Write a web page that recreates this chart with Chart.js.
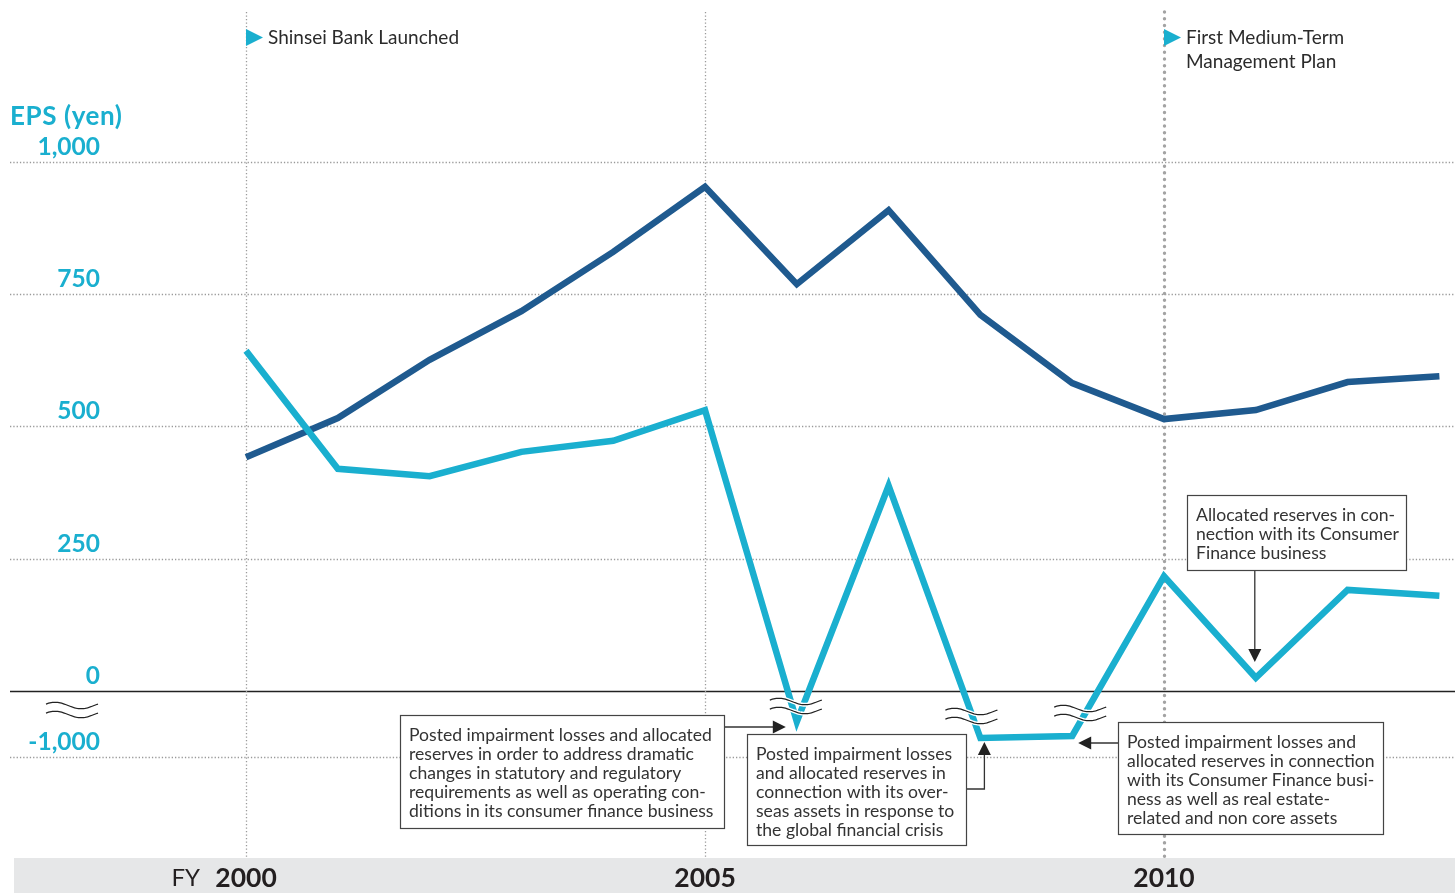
<!DOCTYPE html>
<html>
<head>
<meta charset="utf-8">
<title>EPS (yen)</title>
<script src="https://cdn.jsdelivr.net/npm/chart.js@4/dist/chart.umd.min.js"></script>
<style>
  html, body { margin: 0; padding: 0; background: #fff; }
  #wrap { width: 1455px; height: 893px; position: relative; }
</style>
</head>
<body>
<div id="wrap"><canvas id="epsChart" width="1455" height="893"></canvas></div>
<script>
// fiscal years and EPS (yen) for the two series
const years = [2000, 2001, 2002, 2003, 2004, 2005, 2006, 2007, 2008, 2009, 2010, 2011, 2012, 2013];
const epsNavy = [442, 516, 626, 718, 830, 953, 769, 909, 711, 582, 514, 531, 584, 595];
const epsCyan = [643, 420, 406, 452, 473, 531, -464, 388, -711, -680, 217, 25, 191, 180];

// y ticks as EPS values; the negative part of the axis is compressed
const yTicks = [1000, 750, 500, 250, 0, -1000];
const xLabelYears = [2000, 2005, 2010];
const BREAK = 0.125;
const squash = (v) => (v < 0 ? v * BREAK : v);

const NAVY = "#1f5a8f";
const CYAN = "#1aafcf";
const FONT = "Lato, 'Noto Sans', sans-serif";

const notes = [
  { x: 400, y: 715, w: 324, h: 113, lines: [
    "Posted impairment losses and allocated",
    "reserves in order to address dramatic",
    "changes in statutory and regulatory",
    "requirements as well as operating con-",
    "ditions in its consumer finance business"] },
  { x: 747, y: 734, w: 219, h: 111, lines: [
    "Posted impairment losses",
    "and allocated reserves in",
    "connection with its over-",
    "seas assets in response to",
    "the global financial crisis"] },
  { x: 1118, y: 722, w: 265, h: 112, lines: [
    "Posted impairment losses and",
    "allocated reserves in connection",
    "with its Consumer Finance busi-",
    "ness as well as real estate-",
    "related and non core assets"] },
  { x: 1187, y: 495, w: 219, h: 75, lines: [
    "Allocated reserves in con-",
    "nection with its Consumer",
    "Finance business"] }
];

function arrowHead(ctx, x, y, dir) {
  const L = 13, W = 6.5;
  ctx.beginPath();
  if (dir === "right") { ctx.moveTo(x, y); ctx.lineTo(x - L, y - W); ctx.lineTo(x - L, y + W); }
  if (dir === "left") { ctx.moveTo(x, y); ctx.lineTo(x + L, y - W); ctx.lineTo(x + L, y + W); }
  if (dir === "up") { ctx.moveTo(x, y); ctx.lineTo(x - W, y + L); ctx.lineTo(x + W, y + L); }
  if (dir === "down") { ctx.moveTo(x, y); ctx.lineTo(x - W, y - L); ctx.lineTo(x + W, y - L); }
  ctx.closePath();
  ctx.fill();
}

function waves(ctx, cx, cy) {
  const w = 52, a = 3.2, gap = 9;
  const path = (oy) => {
    ctx.beginPath();
    for (let i = 0; i <= 40; i++) {
      const t = i / 40;
      const px = cx - w / 2 + t * w;
      const py = cy + oy - a * Math.sin(t * Math.PI * 2 + Math.PI * 0.15);
      i === 0 ? ctx.moveTo(px, py) : ctx.lineTo(px, py);
    }
  };
  [-gap / 2, gap / 2].forEach((oy) => {
    path(oy);
    ctx.strokeStyle = "#fff"; ctx.lineWidth = 4; ctx.stroke();
    path(oy);
    ctx.strokeStyle = "#222"; ctx.lineWidth = 1.3; ctx.stroke();
  });
}

const backdrop = {
  id: "backdrop",
  beforeDatasetsDraw(chart) {
    const { ctx, chartArea, scales } = chart;
    const x = scales.x, y = scales.y;
    ctx.save();
    // gray year band
    ctx.fillStyle = "#e6e7e8";
    ctx.fillRect(14, chartArea.bottom, 1455 - 14, 893 - chartArea.bottom);

    // horizontal grid
    yTicks.forEach((t) => {
      const py = Math.round(y.getPixelForValue(squash(t))) + 0.5;
      ctx.beginPath();
      ctx.moveTo(chartArea.left, py);
      ctx.lineTo(chartArea.right, py);
      if (t === 0) {
        ctx.setLineDash([]); ctx.strokeStyle = "#222"; ctx.lineWidth = 1.5;
      } else {
        ctx.setLineDash([1.3, 2]); ctx.strokeStyle = "#9a9a9a"; ctx.lineWidth = 1.3;
      }
      ctx.stroke();
    });

    // vertical year markers
    xLabelYears.forEach((yr) => {
      const px = Math.round(x.getPixelForValue(yr)) + 0.5;
      ctx.beginPath();
      ctx.moveTo(px, 12);
      ctx.lineTo(px, chartArea.bottom);
      if (yr === 2010) {
        ctx.setLineDash([0.1, 6.6]); ctx.lineCap = "round"; ctx.lineWidth = 3.4; ctx.strokeStyle = "#a3a3a3";
      } else {
        ctx.setLineDash([1.3, 2.2]); ctx.lineCap = "butt"; ctx.lineWidth = 1.3; ctx.strokeStyle = "#9a9a9a";
      }
      ctx.stroke();
    });
    ctx.restore();
  },
  afterDatasetsDraw(chart) {
    const { ctx, scales } = chart;
    const x = scales.x, y = scales.y;
    const pt = (i, data) => ({ x: x.getPixelForValue(years[i]), y: y.getPixelForValue(squash(data[i])) });
    ctx.save();

    // axis break marks
    waves(ctx, 72, 710);
    const p06 = pt(6, epsCyan), p08 = pt(8, epsCyan), p09 = pt(9, epsCyan), p11 = pt(11, epsCyan);
    waves(ctx, p06.x - 1, 706);
    waves(ctx, p08.x - 9, 716);
    waves(ctx, p09.x + 8, 713);

    // y tick labels
    ctx.fillStyle = CYAN;
    ctx.font = "bold 24.5px " + FONT;
    ctx.textAlign = "right";
    ctx.textBaseline = "middle";
    yTicks.forEach((t) => {
      const py = y.getPixelForValue(squash(t));
      ctx.fillText(t.toLocaleString("en-US"), 100, py - 15);
    });
    ctx.textAlign = "left";
    ctx.font = "bold 26px " + FONT;
    ctx.letterSpacing = "0.6px";
    ctx.fillText("EPS (yen)", 10, 117);
    ctx.letterSpacing = "0px";

    // x labels in the band
    ctx.fillStyle = "#231f20";
    ctx.textAlign = "center";
    xLabelYears.forEach((yr) => {
      ctx.font = "bold 26.5px " + FONT;
      ctx.fillText(String(yr), x.getPixelForValue(yr), 878);
    });
    ctx.font = "24px " + FONT;
    ctx.textAlign = "right";
    ctx.fillText("FY", 200, 878);

    // milestone flags
    const flag = (yr, lines) => {
      const px = x.getPixelForValue(yr);
      ctx.fillStyle = CYAN;
      ctx.beginPath();
      ctx.moveTo(px, 29); ctx.lineTo(px + 17, 37.5); ctx.lineTo(px, 46);
      ctx.closePath(); ctx.fill();
      ctx.fillStyle = "#2b2b2b";
      ctx.font = "19px " + FONT;
      ctx.textAlign = "left";
      lines.forEach((s, i) => ctx.fillText(s, px + 22, 38 + i * 24));
    };
    flag(2000, ["Shinsei Bank Launched"]);
    flag(2010, ["First Medium-Term", "Management Plan"]);

    // callout arrows
    ctx.strokeStyle = "#333"; ctx.fillStyle = "#222"; ctx.lineWidth = 1.3;
    ctx.beginPath(); ctx.moveTo(724, 727); ctx.lineTo(p06.x - 14, 727); ctx.stroke();
    arrowHead(ctx, p06.x - 11, 727, "right");
    ctx.beginPath(); ctx.moveTo(966, 789); ctx.lineTo(p08.x + 4, 789); ctx.lineTo(p08.x + 4, 752); ctx.stroke();
    arrowHead(ctx, p08.x + 4, 742, "up");
    ctx.beginPath(); ctx.moveTo(1118, 743); ctx.lineTo(p09.x + 12, 743); ctx.stroke();
    arrowHead(ctx, p09.x + 6, 743, "left");
    ctx.beginPath(); ctx.moveTo(p11.x - 1, 570); ctx.lineTo(p11.x - 1, 652); ctx.stroke();
    arrowHead(ctx, p11.x - 1, 662, "down");

    // callout boxes
    notes.forEach((n) => {
      ctx.fillStyle = "#fff";
      ctx.fillRect(n.x, n.y, n.w, n.h);
      ctx.strokeStyle = "#444"; ctx.lineWidth = 1.2;
      ctx.strokeRect(n.x + 0.5, n.y + 0.5, n.w, n.h);
      ctx.fillStyle = "#333";
      ctx.font = "17.6px " + FONT;
      ctx.textAlign = "left";
      ctx.textBaseline = "middle";
      n.lines.forEach((s, i) => ctx.fillText(s, n.x + 9, n.y + 20 + i * 19));
    });
    ctx.restore();
  }
};

new Chart(document.getElementById("epsChart"), {
  type: "line",
  data: {
    datasets: [
      {
        label: "EPS",
        data: years.map((yr, i) => ({ x: yr, y: squash(epsCyan[i]) })),
        borderColor: CYAN,
        borderWidth: 6.5,
        pointRadius: 0,
        tension: 0,
        order: 0
      },
      {
        label: "EPS (navy)",
        data: years.map((yr, i) => ({ x: yr, y: epsNavy[i] })),
        borderColor: NAVY,
        borderWidth: 6.5,
        pointRadius: 0,
        tension: 0,
        order: 1
      }
    ]
  },
  options: {
    responsive: false,
    animation: false,
    layout: { padding: { left: 10, right: 0, top: 0, bottom: 35 } },
    plugins: { legend: { display: false }, tooltip: { enabled: false } },
    scales: {
      x: { type: "linear", display: false, min: 1997.429, max: 2013.17 },
      y: { type: "linear", display: false, min: -315.7, max: 1306.2 }
    }
  },
  plugins: [backdrop]
});
</script>
</body>
</html>
